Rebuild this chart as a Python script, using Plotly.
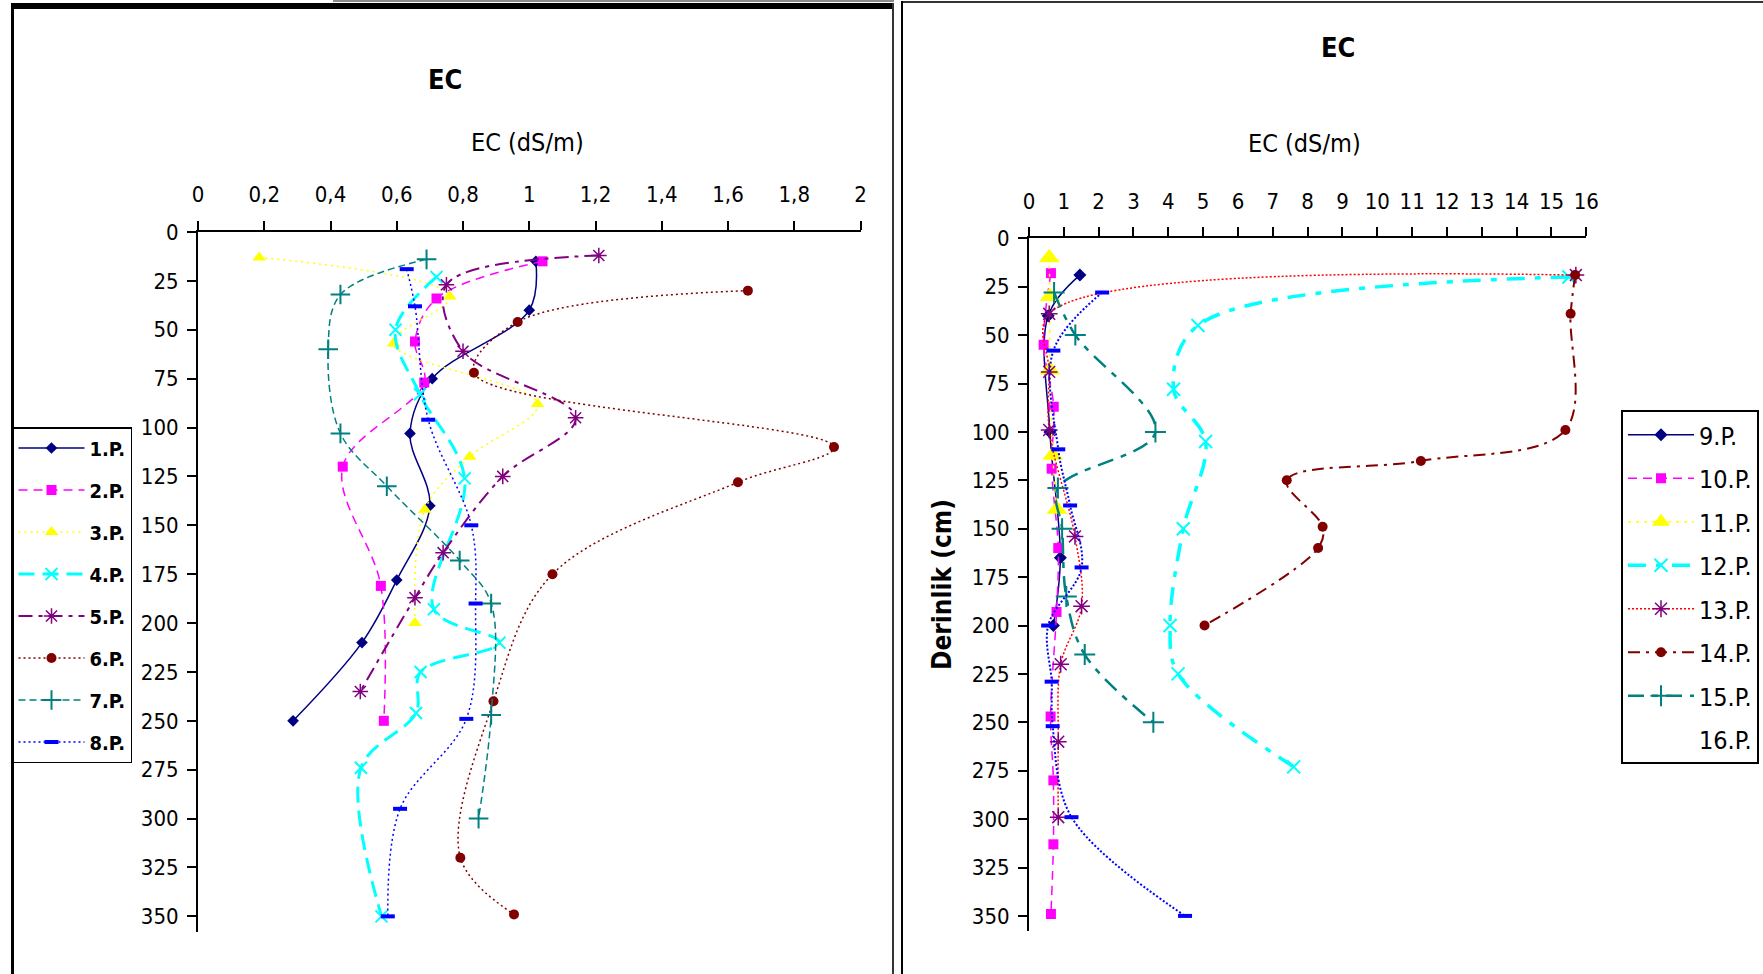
import plotly.graph_objects as go

W, H = 1763, 974

# ---------------- Left panel: profiles 1.P. - 8.P. (depth cm, EC dS/m)
p1_depth = [15, 40, 75, 103, 140, 178, 210, 250]
p1_ec = [1.02, 1.00, 0.707, 0.64, 0.70, 0.60, 0.495, 0.287]
p2_depth = [15, 34, 56, 77, 120, 181, 250]
p2_ec = [1.04, 0.72, 0.655, 0.683, 0.437, 0.552, 0.561]
p3_depth = [13, 33, 57, 88, 115, 142, 200]
p3_ec = [0.185, 0.76, 0.59, 1.025, 0.82, 0.685, 0.655]
p4_depth = [23, 50, 83, 126, 193, 210, 225, 246, 274, 350]
p4_ec = [0.72, 0.596, 0.67, 0.805, 0.712, 0.91, 0.672, 0.658, 0.492, 0.554]
p5_depth = [12, 27, 61, 95, 125, 164, 187, 235]
p5_ec = [1.21, 0.75, 0.80, 1.14, 0.92, 0.74, 0.655, 0.49]
p6_depth = [30, 46, 72, 110, 128, 175, 240, 320, 349]
p6_ec = [1.66, 0.965, 0.833, 1.92, 1.63, 1.07, 0.892, 0.792, 0.954]
p7_depth = [14, 32, 60, 103, 130, 168, 190, 247, 300]
p7_ec = [0.69, 0.43, 0.393, 0.43, 0.57, 0.79, 0.885, 0.885, 0.847]
p8_depth = [19, 38, 96, 150, 190, 249, 295, 350]
p8_ec = [0.63, 0.655, 0.695, 0.825, 0.838, 0.81, 0.61, 0.573]

# ---------------- Right panel: profiles 9.P. - 16.P.
p9_depth = [19, 40, 100, 165, 200]
p9_ec = [1.46, 0.55, 0.60, 0.90, 0.70]
p10_depth = [18, 55, 87, 119, 160, 193, 247, 280, 313, 349]
p10_ec = [0.63, 0.42, 0.71, 0.65, 0.84, 0.79, 0.62, 0.70, 0.70, 0.63]
p11_depth = [10, 30, 68, 112, 140]
p11_ec = [0.58, 0.60, 0.60, 0.68, 0.80]
p12_depth = [20, 45, 78, 105, 150, 200, 225, 273]
p12_ec = [15.5, 4.85, 4.15, 5.07, 4.43, 4.05, 4.28, 7.6]
p13_depth = [19, 39, 69, 99, 154, 190, 220, 260, 299]
p13_ec = [15.7, 0.58, 0.58, 0.58, 1.32, 1.51, 0.91, 0.84, 0.84]
p14_depth = [19, 39, 99, 115, 125, 149, 160, 200]
p14_ec = [15.68, 15.55, 15.4, 11.25, 7.4, 8.43, 8.3, 5.04]
p15_depth = [28, 50, 100, 129, 150, 185, 215, 250]
p15_ec = [0.72, 1.33, 3.63, 0.83, 0.95, 1.07, 1.6, 3.57]
p16_depth = [28, 58, 109, 138, 170, 200, 229, 252, 299, 350]
p16_ec = [2.1, 0.7, 0.84, 1.18, 1.51, 0.55, 0.65, 0.68, 1.22, 4.48]

# ---------------- Axis ticks
left_xtick_vals = [0, 0.2, 0.4, 0.6, 0.8, 1.0, 1.2, 1.4, 1.6, 1.8, 2.0]
left_xtick_text = ["0", "0,2", "0,4", "0,6", "0,8", "1", "1,2", "1,4", "1,6", "1,8", "2"]
right_xtick_vals = list(range(0, 17))
right_xtick_text = [str(v) for v in right_xtick_vals]
depth_ticks = [0, 25, 50, 75, 100, 125, 150, 175, 200, 225, 250, 275, 300, 325, 350]

NARROW = "Liberation Sans Narrow, Arial Narrow, DejaVu Sans Condensed, Liberation Sans, sans-serif"

NAVY, MAGENTA, YELLOW, CYAN = "#000080", "#FF00FF", "#FFFF00", "#00FFFF"
PURPLE, MAROON, TEAL, BLUE, RED = "#800080", "#800000", "#008080", "#0000FF", "#FF0000"

fig = go.Figure()


def add_profile(name, ec, depth, panel, color, dash, width, symbol, msize,
                mcolor=None, mline=0.0, showlegend=True):
    xa, ya, lg = ("x", "y", "legend") if panel == 0 else ("x2", "y2", "legend2")
    mc = mcolor or color
    fig.add_trace(go.Scatter(
        x=ec, y=depth, name=name, mode="lines+markers",
        xaxis=xa, yaxis=ya, legend=lg, legendgroup=name, showlegend=showlegend,
        line=dict(color=color, dash=dash, width=width, shape="spline", smoothing=1.0),
        marker=dict(symbol=symbol, size=msize, color=mc,
                    line=dict(color=mc, width=mline)),
        cliponaxis=False,
    ))


# left panel series
add_profile("1.P.", p1_ec, p1_depth, 0, NAVY, "solid", 1.5, "diamond", 9)
add_profile("2.P.", p2_ec, p2_depth, 0, MAGENTA, "9px,6px", 1.5, "square", 10)
add_profile("3.P.", p3_ec, p3_depth, 0, YELLOW, "2px,4px", 1.5, "triangle-up", 12)
add_profile("4.P.", p4_ec, p4_depth, 0, CYAN, "16px,8px", 3, "x-thin-open", 12, mline=2)
add_profile("5.P.", p5_ec, p5_depth, 0, PURPLE, "14px,6px,4px,6px", 2, "asterisk-open", 13, mline=1.5)
add_profile("6.P.", p6_ec, p6_depth, 0, MAROON, "2px,3px", 1.5, "circle", 10)
add_profile("7.P.", p7_ec, p7_depth, 0, TEAL, "7px,4px", 1.5, "cross-thin-open", 14, mline=2)
add_profile("8.P.", p8_ec, p8_depth, 0, BLUE, "2px,3px", 1.5, "line-ew-open", 10, mline=4)

# right panel series
add_profile("9.P.", p9_ec, p9_depth, 1, NAVY, "solid", 1.5, "diamond", 10)
add_profile("10.P.", p10_ec, p10_depth, 1, MAGENTA, "9px,6px", 1.5, "square", 10)
add_profile("11.P.", p11_ec, p11_depth, 1, YELLOW, "3px,5px", 1.5, "triangle-up", 18)
add_profile("12.P.", p12_ec, p12_depth, 1, CYAN, "18px,10px,6px,10px", 3.5, "x-thin-open", 13, mline=2)
add_profile("13.P.", p13_ec, p13_depth, 1, RED, "2px,2px", 1.5, "asterisk-open", 14,
            mcolor=PURPLE, mline=1.5)
add_profile("14.P.", p14_ec, p14_depth, 1, MAROON, "12px,6px,3px,6px", 2, "circle", 10)
add_profile("15.P.", p15_ec, p15_depth, 1, TEAL, "16px,8px,6px,8px", 2.5, "cross-thin-open", 15, mline=2)
add_profile("16.P.", p16_ec, p16_depth, 1, BLUE, "2px,2px", 2, "line-ew-open", 10, mline=4,
            showlegend=False)
# 16.P. legend key is shown as text only
fig.add_trace(go.Scatter(x=[None], y=[None], name="16.P.", mode="lines",
                         xaxis="x2", yaxis="y2", legend="legend2", legendgroup="16.P. key",
                         line=dict(color="rgba(0,0,0,0)", width=0)))


def px_x(p):
    return p / W


def px_y(p):
    return 1 - p / H


tick_font = dict(family=NARROW, size=22, color="black")
xcommon = dict(side="top", showgrid=False, zeroline=False, showline=True,
               linecolor="black", linewidth=2, ticks="outside", ticklen=9,
               tickwidth=2, tickcolor="black", tickfont=tick_font,
               ticklabelstandoff=10, fixedrange=True)
ycommon = dict(showgrid=False, zeroline=False, showline=True, linecolor="black",
               linewidth=2, ticks="outside", ticklen=9, tickwidth=2,
               tickcolor="black", tickfont=tick_font, ticklabelstandoff=4,
               range=[358, 0], tickvals=depth_ticks, fixedrange=True)

fig.update_layout(
    width=W, height=H, autosize=False,
    margin=dict(l=0, r=0, t=0, b=0, pad=0, autoexpand=False),
    paper_bgcolor="white", plot_bgcolor="white",
    xaxis=dict(**xcommon, domain=[px_x(198), px_x(860.5)], range=[0, 2],
               tickvals=left_xtick_vals, ticktext=left_xtick_text, anchor="y"),
    yaxis=dict(**ycommon, domain=[px_y(932), px_y(232)], anchor="x"),
    xaxis2=dict(**xcommon, domain=[px_x(1029), px_x(1586.3)], range=[0, 16],
                tickvals=right_xtick_vals, ticktext=right_xtick_text, anchor="y2"),
    yaxis2=dict(**ycommon, domain=[px_y(931.4), px_y(238.3)], anchor="x2"),
    legend=dict(x=px_x(12), y=px_y(427), xanchor="left", yanchor="top",
                bordercolor="black", borderwidth=1.5, bgcolor="white",
                font=dict(family=NARROW, size=20, color="black", weight="bold"),
                itemwidth=66, traceorder="grouped", tracegroupgap=13,
                itemclick=False, itemdoubleclick=False),
    legend2=dict(x=px_x(1621), y=px_y(410), xanchor="left", yanchor="top",
                 bordercolor="black", borderwidth=2, bgcolor="white",
                 font=dict(family=NARROW, size=25, color="black"),
                 itemwidth=66, traceorder="grouped", tracegroupgap=8,
                 itemclick=False, itemdoubleclick=False),
    showlegend=True,
)

# titles
title_font = dict(family=NARROW, size=27, color="black", weight="bold")
axis_title_font = dict(family=NARROW, size=25, color="black")
fig.add_annotation(text="EC", x=px_x(445), y=px_y(79), xref="paper", yref="paper",
                   showarrow=False, font=title_font, xanchor="center", yanchor="middle")
fig.add_annotation(text="EC (dS/m)", x=px_x(527), y=px_y(143), xref="paper", yref="paper",
                   showarrow=False, font=axis_title_font, xanchor="center", yanchor="middle")
fig.add_annotation(text="EC", x=px_x(1338), y=px_y(48), xref="paper", yref="paper",
                   showarrow=False, font=title_font, xanchor="center", yanchor="middle")
fig.add_annotation(text="EC (dS/m)", x=px_x(1304), y=px_y(144), xref="paper", yref="paper",
                   showarrow=False, font=axis_title_font, xanchor="center", yanchor="middle")
fig.add_annotation(text="Derinlik (cm)", x=px_x(942), y=px_y(584), xref="paper", yref="paper",
                   showarrow=False, textangle=-90,
                   font=dict(family=NARROW, size=26, color="black", weight="bold"),
                   xanchor="center", yanchor="middle")

# panel frames
def frame_rect(x0, y0, x1, y1, color):
    fig.add_shape(type="rect", xref="paper", yref="paper",
                  x0=px_x(x0), x1=px_x(x1), y0=px_y(y0), y1=px_y(y1),
                  line=dict(width=0), fillcolor=color, layer="above")


frame_rect(333, 0, 894, 2, "#8c8c8c")      # thin grey rule at the very top
frame_rect(11, 3, 894, 9, "black")         # left panel top border
frame_rect(11, 3, 14, 974, "black")        # left panel left border
frame_rect(892, 3, 894, 974, "#333333")    # left panel right border
frame_rect(901, 1, 1763, 3, "#333333")     # right panel top border
frame_rect(901, 1, 903, 974, "black")      # right panel left border

fig.write_html("out.html")
